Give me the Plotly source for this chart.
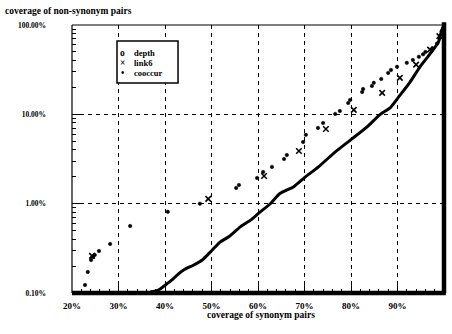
import plotly.graph_objects as go

# ---- data (fractions) ----
depth_x = [0.153, 0.228, 0.234, 0.241, 0.245, 0.249, 0.258, 0.282, 0.325, 0.406,
           0.475, 0.553, 0.559, 0.598, 0.611, 0.630, 0.656, 0.662, 0.697, 0.703,
           0.729, 0.740, 0.766, 0.776, 0.794, 0.798, 0.824, 0.826, 0.845, 0.849,
           0.865, 0.880, 0.886, 0.899, 0.920, 0.933, 0.946, 0.955, 0.960, 0.975,
           0.985, 0.990, 0.995, 1.000]
depth_y = [0.0036, 0.00123, 0.00172, 0.00234, 0.00253, 0.00267, 0.00295, 0.00354, 0.00562, 0.0081,
           0.0100, 0.0150, 0.0162, 0.0194, 0.0226, 0.0258, 0.0316, 0.0350, 0.0490, 0.0589,
           0.0705, 0.0800, 0.101, 0.109, 0.134, 0.145, 0.178, 0.192, 0.208, 0.225,
           0.249, 0.291, 0.314, 0.340, 0.377, 0.406, 0.44, 0.47, 0.50, 0.55,
           0.62, 0.72, 0.85, 1.0]

link6_x = [0.243, 0.493, 0.613, 0.688, 0.746, 0.806, 0.867, 0.905, 0.940, 0.970, 0.990]
link6_y = [0.0026, 0.0113, 0.0204, 0.0389, 0.0686, 0.112, 0.174, 0.256, 0.36, 0.53, 0.75]

cooccur_x = [0.369, 0.386, 0.401, 0.415, 0.426, 0.440, 0.462, 0.480, 0.498, 0.519,
             0.537, 0.562, 0.584, 0.601, 0.627, 0.647, 0.676, 0.700, 0.730, 0.762,
             0.798, 0.834, 0.863, 0.884, 0.905, 0.927, 0.948, 0.970, 0.988, 0.995, 1.000]
cooccur_y = [0.00103, 0.00108, 0.00123, 0.00140, 0.00159, 0.00181, 0.00206, 0.00234, 0.00289, 0.00374,
             0.00426, 0.0055, 0.00655, 0.00778, 0.01005, 0.0130, 0.0154, 0.0196, 0.0258, 0.0364,
             0.0512, 0.072, 0.100, 0.118, 0.163, 0.230, 0.338, 0.476, 0.643, 0.87, 1.0]

x_ticks = [0.2, 0.3, 0.4, 0.5, 0.6, 0.7, 0.8, 0.9, 1.0]
x_labels = ["20%", "30%", "40%", "50%", "60%", "70%", "80%", "90%", "100%"]
y_ticks = [0.001, 0.01, 0.1, 1.0]
y_labels = ["0.10%", "1.00%", "10.00%", "100.00%"]

legend_names = ["depth", "link6", "cooccur"]
legend_glyphs = ["o", "×", "•"]

x_minor = [round(0.2 + 0.02 * i, 2) for i in range(41)]
y_minor = [m * 10.0 ** e for e in (-3, -2, -1) for m in range(2, 10)]

FONT = "Liberation Serif"
W = 700

fig = go.Figure()
fig.add_trace(go.Scatter(x=cooccur_x, y=cooccur_y, mode="lines", name="cooccur",
                         line=dict(color="black", width=3, shape="spline", smoothing=0.6),
                         hoverinfo="skip"))
fig.add_trace(go.Scatter(x=depth_x, y=depth_y, mode="markers", name="depth",
                         marker=dict(symbol="circle", size=3.5, color="black",
                                     line=dict(width=0.5, color="black")),
                         cliponaxis=False))
fig.add_trace(go.Scatter(x=link6_x, y=link6_y, mode="markers", name="link6",
                         marker=dict(symbol="x-thin-open", size=5.5, color="black",
                                     line=dict(width=1.6, color="black"))))

fig.update_layout(
    width=452, height=334,
    margin=dict(l=72, r=8, t=25, b=41),
    paper_bgcolor="white", plot_bgcolor="white",
    font=dict(family=FONT, color="black", size=8, weight=W),
    showlegend=False,
)

fig.update_xaxes(
    range=[0.2, 1.0], tickvals=x_ticks, ticktext=x_labels,
    showgrid=True, gridcolor="black", gridwidth=1, griddash="4px,4px",
    ticks="inside", ticklen=8, tickwidth=1, tickcolor="black",
    tickfont=dict(family=FONT, size=9, weight=W),
    ticklabelstandoff=6,
    minor=dict(tickvals=x_minor, ticks="inside", ticklen=4, tickcolor="black", showgrid=False),
    showline=False, zeroline=False,
)
fig.update_yaxes(
    type="log", range=[-3, 0], tickvals=y_ticks, ticktext=y_labels,
    showgrid=True, gridcolor="black", gridwidth=1, griddash="4px,4px",
    ticks="inside", ticklen=8, tickwidth=1, tickcolor="black",
    tickfont=dict(family=FONT, size=7.5, weight=W),
    ticklabelstandoff=25,
    minor=dict(tickvals=y_minor, ticks="inside", ticklen=4, tickcolor="black", showgrid=False),
    showline=False, zeroline=False,
)

# frame: thin left/top, thick bottom/right
fig.add_shape(type="line", xref="paper", yref="paper", x0=0, x1=0, y0=0, y1=1,
              line=dict(color="black", width=1.2), layer="above")
fig.add_shape(type="line", xref="paper", yref="paper", x0=0, x1=1, y0=1, y1=1,
              line=dict(color="black", width=1.2), layer="above")
fig.add_shape(type="line", xref="paper", yref="paper", x0=0, x1=1.005, y0=0, y1=0,
              line=dict(color="black", width=4.5), layer="above")
fig.add_shape(type="line", xref="paper", yref="paper", x0=1, x1=1, y0=0, y1=1.01,
              line=dict(color="black", width=4.5), layer="above")

# legend box (manual, compact like the original)
fig.add_shape(type="rect", xref="paper", yref="paper", x0=0.121, x1=0.285, y0=0.784, y1=0.940,
              line=dict(color="black", width=1.5), fillcolor="white", layer="above")
legend_rows = [0.896, 0.858, 0.822]
for name, glyph, ry in zip(legend_names, legend_glyphs, legend_rows):
    fig.add_annotation(text=glyph, xref="paper", yref="paper", x=0.137, y=ry,
                       xanchor="center", yanchor="middle", showarrow=False,
                       font=dict(family=FONT, size=9.5, weight=W))
    fig.add_annotation(text=name, xref="paper", yref="paper", x=0.160, y=ry,
                       xanchor="left", yanchor="middle", showarrow=False,
                       font=dict(family=FONT, size=8.5, weight=W))

fig.add_annotation(text="coverage of non-synonym pairs", xref="paper", yref="paper",
                   x=-0.185, y=1.052, xanchor="left", yanchor="middle", showarrow=False,
                   font=dict(family=FONT, size=9.5, weight=W))
fig.add_annotation(text="coverage of synonym pairs", xref="paper", yref="paper",
                   x=0.508, y=-0.082, xanchor="center", yanchor="middle", showarrow=False,
                   font=dict(family=FONT, size=9.5, weight=W))

fig.write_html("out.html")
